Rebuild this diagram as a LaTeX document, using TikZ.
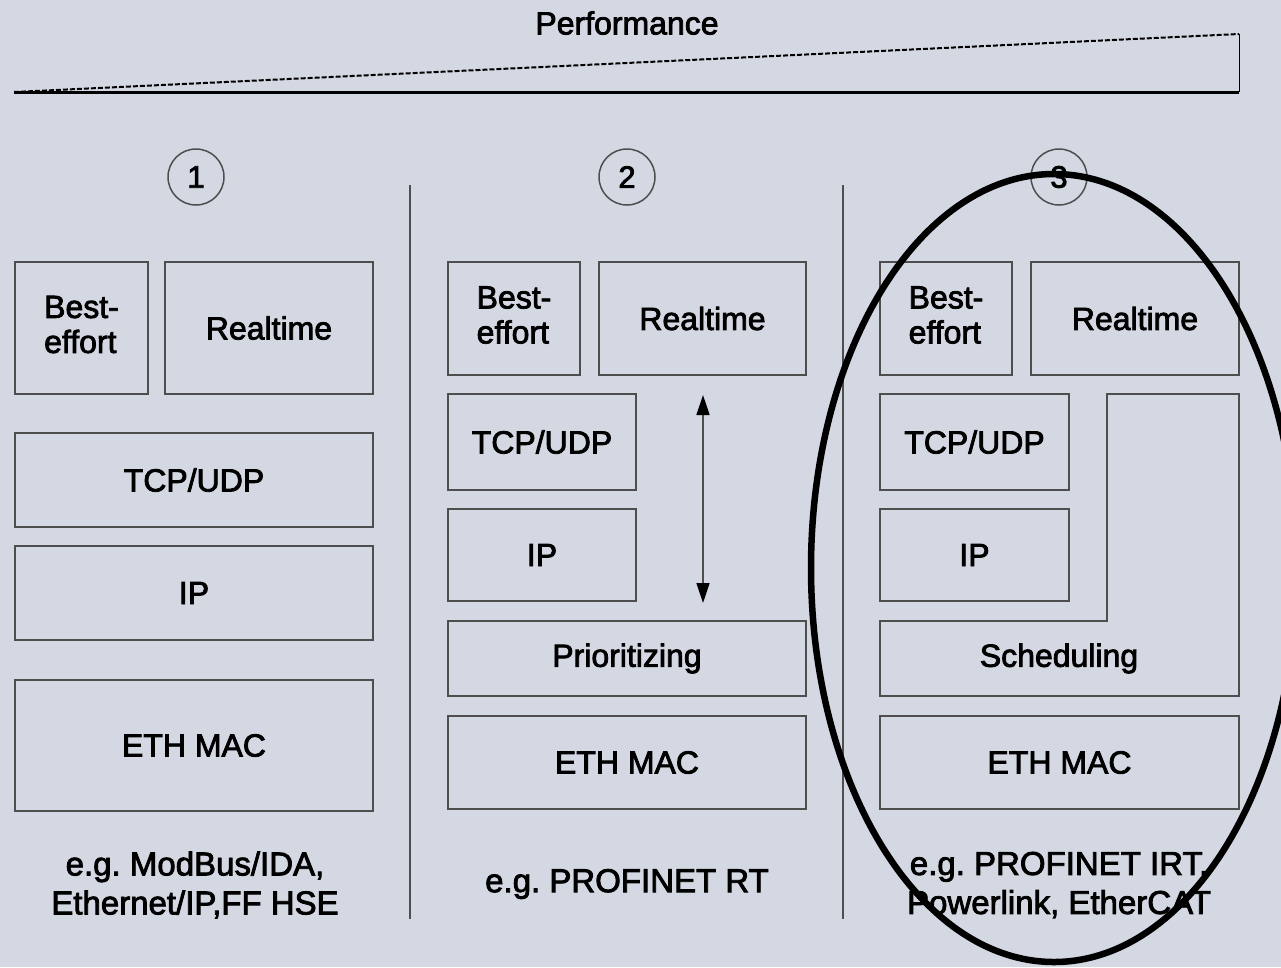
\documentclass[tikz,border=0pt]{standalone}
\usepackage{fontspec}
\setmainfont{Liberation Sans}
\newfontfamily\heavy{Liberation Sans}[FakeBold=2.5]
\usetikzlibrary{arrows.meta}
\definecolor{bg}{RGB}{212,216,226}
\definecolor{edge}{RGB}{78,78,78}
\frenchspacing
\begin{document}
\begin{tikzpicture}[x=1pt,y=-1pt,
  box/.style={draw=edge, line width=1.8pt, inner sep=0pt, outer sep=0pt, align=center,
    font=\heavy\fontsize{32}{37}\selectfont},
  lbl/.style={inner sep=0pt, align=center, font=\heavy\fontsize{32}{37}\selectfont},
  foot/.style={inner sep=0pt, align=center, font=\heavy\fontsize{33}{39}\selectfont},
  num/.style={circle, draw=edge, line width=1.5pt, minimum size=56pt, inner sep=0pt,
    font=\heavy\fontsize{31}{34}\selectfont},
  sep/.style={draw=edge, line width=2.5pt}]
\path[use as bounding box, fill=bg] (0,0) rectangle (1281,967);
\clip (0,0) rectangle (1281,967);

% performance wedge
\node[lbl] (perf) at (627,23) {Performance};
\coordinate (wl) at (14,92);
\coordinate (wr) at (1239,92);
\coordinate (wt) at (1239,34);
\draw[line width=3pt] (wl) -- (wr);
\draw[line width=1pt] (wr) -- (wt);
\draw[line width=2pt, dash pattern=on 5pt off 2pt] (wl) -- (wt);

% numbers
\node[num] (n1) at (196,177) {1};
\node[num] (n2) at (627,177) {2};
\node[num] (n3) at (1059,177) {3};

% separators
\coordinate (s1t) at (410,185); \coordinate (s1b) at (410,919);
\coordinate (s2t) at (843,185); \coordinate (s2b) at (843,919);
\draw[sep] (s1t) -- (s1b);
\draw[sep] (s2t) -- (s2b);

% column 1
\node[box, minimum width=133pt, minimum height=132pt] (b1) at (81.5,328) {\begin{tabular}{@{}l@{}}Best-\\[-2pt]effort\end{tabular}};
\node[box, minimum width=208pt, minimum height=132pt] (r1) at (269,328) {Realtime};
\node[box, minimum width=358pt, minimum height=94pt] (t1) at (194,480) {TCP/UDP};
\node[box, minimum width=358pt, minimum height=94pt] (i1) at (194,593) {IP};
\node[box, minimum width=358pt, minimum height=131pt] (e1) at (194,745.5) {ETH MAC};
\node[foot] (f1) at (195,885) {e.g. ModBus/IDA,\\Ethernet/IP,FF HSE};

% column 2
\node[box, minimum width=132pt, minimum height=113pt] (b2) at (514,318.5) {\begin{tabular}{@{}l@{}}Best-\\[-2pt]effort\end{tabular}};
\node[box, minimum width=207pt, minimum height=113pt] (r2) at (702.5,318.5) {Realtime};
\node[box, minimum width=188pt, minimum height=96pt] (t2) at (542,442) {TCP/UDP};
\node[box, minimum width=188pt, minimum height=92pt] (i2) at (542,555) {IP};
\node[box, minimum width=358pt, minimum height=75pt] (p2) at (627,658.5) {Prioritizing};
\node[box, minimum width=358pt, minimum height=93pt] (e2) at (627,762.5) {ETH MAC};
\node[foot] (f2) at (627,884) {e.g. PROFINET RT};
\coordinate (at) at (703,395);
\coordinate (ab) at (703,603);
\draw[draw=edge, line width=1.6pt, {Triangle[width=13pt,length=20pt,color=black]}-{Triangle[width=13pt,length=20pt,color=black]}] (at) -- (ab);

% column 3
\node[box, minimum width=132pt, minimum height=113pt] (b3) at (946,318.5) {\begin{tabular}{@{}l@{}}Best-\\[-2pt]effort\end{tabular}};
\node[box, minimum width=208pt, minimum height=113pt] (r3) at (1135,318.5) {Realtime};
\node[box, minimum width=189pt, minimum height=96pt] (t3) at (974.5,442) {TCP/UDP};
\node[box, minimum width=189pt, minimum height=92pt] (i3) at (974.5,555) {IP};
\draw[draw=edge, line width=1.8pt] (880,621) -- (1107,621) -- (1107,394) -- (1239,394) -- (1239,696) -- (880,696) -- cycle;
\node[lbl] (sc) at (1059,658.5) {Scheduling};
\node[box, minimum width=359pt, minimum height=93pt] (e3) at (1059.5,762.5) {ETH MAC};
\node[foot] (f3) at (1059,885) {e.g. PROFINET IRT,\\Powerlink, EtherCAT};

% highlight ellipse
\draw[line width=6.5pt] (1054,568) ellipse [x radius=243, y radius=394];
\end{tikzpicture}
\end{document}
